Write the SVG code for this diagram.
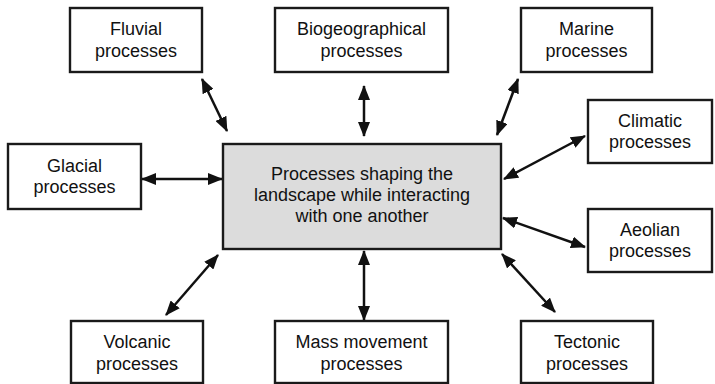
<svg xmlns="http://www.w3.org/2000/svg" width="715" height="384" viewBox="0 0 715 384">
<defs>
<style>
.box{fill:#fff;stroke:#1a1a1a;stroke-width:2.4}
.main{fill:#dcdcdc;stroke:#1a1a1a;stroke-width:2.4}
text{font-family:"Liberation Sans",Arial,sans-serif;font-size:18px;fill:#111;text-anchor:middle}
.c line{stroke:#111;stroke-width:2.5;marker-start:url(#ah);marker-end:url(#ah)}
</style>
<marker id="ah" viewBox="0 0 15 12" refX="14" refY="6" markerWidth="15" markerHeight="12" markerUnits="userSpaceOnUse" orient="auto-start-reverse">
<path d="M0,0 L15,6 L0,12 z" fill="#111"/>
</marker>
</defs>
<g class="c" id="connectors">
<line x1="202" y1="79" x2="227" y2="131"/>
<line x1="364" y1="86" x2="364" y2="136"/>
<line x1="518" y1="79" x2="497" y2="135"/>
<line x1="585" y1="136" x2="504" y2="179"/>
<line x1="142" y1="179" x2="222" y2="179"/>
<line x1="503" y1="218" x2="585" y2="247"/>
<line x1="218" y1="255" x2="166" y2="315"/>
<line x1="364" y1="251" x2="364" y2="320"/>
<line x1="502" y1="254" x2="555" y2="312"/>
</g>
<g id="fluvial"><rect class="box" x="70" y="8" width="132" height="64"/><text x="136" y="35">Fluvial</text><text x="136" y="57">processes</text></g>
<g id="biogeographical"><rect class="box" x="275" y="8" width="173" height="64"/><text x="361.5" y="35">Biogeographical</text><text x="361.5" y="57">processes</text></g>
<g id="marine"><rect class="box" x="521" y="8" width="131" height="64"/><text x="586.5" y="35">Marine</text><text x="586.5" y="57">processes</text></g>
<g id="climatic"><rect class="box" x="588" y="100" width="124" height="63"/><text x="650" y="127">Climatic</text><text x="650" y="148">processes</text></g>
<g id="glacial"><rect class="box" x="8" y="144" width="133" height="65"/><text x="74.5" y="172">Glacial</text><text x="74.5" y="193">processes</text></g>
<g id="center"><rect class="main" x="223" y="144" width="278" height="105"/><text x="362" y="180">Processes shaping the</text><text x="362" y="201">landscape while interacting</text><text x="362" y="222">with one another</text></g>
<g id="aeolian"><rect class="box" x="588" y="209" width="124" height="63"/><text x="650" y="236">Aeolian</text><text x="650" y="257">processes</text></g>
<g id="volcanic"><rect class="box" x="71" y="321" width="132" height="62"/><text x="137" y="348">Volcanic</text><text x="137" y="370">processes</text></g>
<g id="mass"><rect class="box" x="275" y="321" width="173" height="62"/><text x="361.5" y="348">Mass movement</text><text x="361.5" y="370">processes</text></g>
<g id="tectonic"><rect class="box" x="521" y="321" width="132" height="62"/><text x="587" y="348">Tectonic</text><text x="587" y="370">processes</text></g>
</svg>
